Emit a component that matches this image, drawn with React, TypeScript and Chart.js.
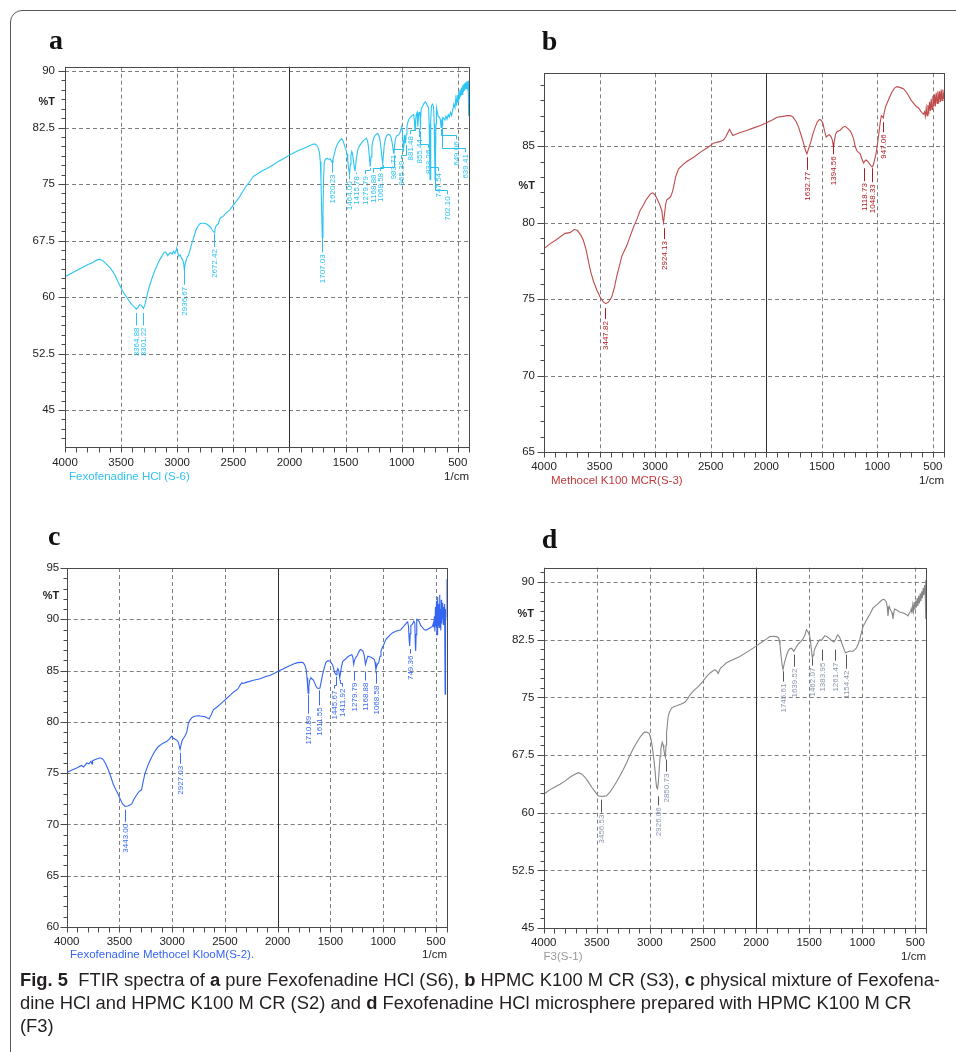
import React, { useEffect, useLayoutEffect, useRef } from "react";
import { Chart, registerables } from "chart.js";

Chart.register(...registerables);

// ---------------- DATA ----------------
// x-axis labels (wavenumber, 1/cm)
const xTickLabels = [4000, 3500, 3000, 2500, 2000, 1500, 1000, 500];

// y-axis labels (%T) per panel
const yTicksA = [45, 52.5, 60, 67.5, 75, 82.5, 90];
const yTicksB = [65, 70, 75, 80, 85];
const yTicksC = [60, 65, 70, 75, 80, 85, 90, 95];
const yTicksD = [45, 52.5, 60, 67.5, 75, 82.5, 90];

// spectra: [wavenumber, %T]
const spectrumA: [number, number][] = [
  [4000, 62.7], [3950, 63.1], [3900, 63.5], [3850, 63.9], [3800, 64.3], [3750, 64.6], [3720, 64.9], [3688, 65.0],
  [3660, 64.8], [3640, 64.5], [3620, 64.2], [3600, 63.9], [3575, 63.4], [3550, 62.8], [3530, 62.1], [3510, 61.5],
  [3490, 60.9], [3470, 60.4], [3450, 60.0], [3430, 59.5], [3410, 59.1], [3390, 58.8], [3375, 58.6], [3365, 58.4],
  [3350, 58.6], [3335, 59.0], [3320, 58.9], [3310, 58.7], [3301, 58.5], [3290, 58.9], [3275, 59.8], [3260, 60.8],
  [3242, 61.7], [3225, 62.5], [3210, 63.1], [3195, 63.7], [3183, 64.1], [3165, 64.7], [3150, 65.1], [3130, 65.6],
  [3118, 65.9], [3105, 66.0], [3095, 65.8], [3085, 65.5], [3075, 65.7], [3060, 65.9], [3045, 65.7], [3035, 66.1],
  [3020, 65.8], [3010, 66.2], [3005, 66.4], [2995, 65.9], [2985, 65.4], [2975, 65.6], [2962, 65.2], [2950, 64.9],
  [2942, 64.4], [2937, 63.7], [2930, 64.3], [2920, 64.9], [2910, 65.3], [2901, 65.5], [2890, 66.0], [2880, 66.6],
  [2868, 67.2], [2857, 67.7], [2845, 68.3], [2835, 68.8], [2822, 69.2], [2812, 69.5], [2795, 69.75], [2780, 69.8],
  [2760, 69.8], [2737, 69.7], [2720, 69.5], [2705, 69.3], [2693, 69.0], [2680, 68.7], [2672, 68.6], [2664, 69.0],
  [2655, 69.4], [2645, 69.6], [2634, 69.7], [2625, 70.2], [2615, 70.5], [2604, 70.6], [2590, 70.7], [2575, 71.0],
  [2560, 71.2], [2545, 71.4], [2530, 71.6], [2515, 71.9], [2500, 72.2], [2485, 72.5], [2470, 72.8], [2455, 73.1],
  [2440, 73.4], [2420, 73.9], [2400, 74.4], [2383, 74.8], [2366, 75.1], [2350, 75.4], [2335, 75.7], [2322, 76.0],
  [2290, 76.3], [2250, 76.7], [2210, 77.0], [2173, 77.3], [2140, 77.6], [2100, 78.0], [2050, 78.4], [1995, 78.9],
  [1960, 79.15], [1920, 79.45], [1876, 79.7], [1840, 79.95], [1810, 80.15], [1787, 80.3], [1770, 80.3], [1755, 80.1],
  [1742, 79.7], [1732, 79.1], [1725, 78.0], [1719, 75.5], [1713, 71.5], [1707, 67.9], [1701, 71.5], [1696, 75.5],
  [1690, 77.8], [1680, 78.3], [1665, 78.4], [1650, 78.3], [1635, 78.3], [1625, 78.0], [1620, 77.9], [1612, 78.2],
  [1600, 79.0], [1588, 79.7], [1575, 80.2], [1560, 80.6], [1545, 80.9], [1535, 81.0], [1525, 80.8], [1515, 80.4],
  [1505, 79.9], [1495, 79.5], [1487, 79.0], [1480, 78.1], [1472, 77.0], [1464, 76.3], [1458, 77.6], [1452, 78.8],
  [1445, 79.3], [1438, 79.0], [1430, 78.1], [1422, 77.2], [1416, 76.7], [1410, 77.5], [1402, 78.6], [1390, 79.6],
  [1378, 80.0], [1365, 80.3], [1345, 80.7], [1330, 80.9], [1315, 81.1], [1305, 80.8], [1296, 80.0], [1288, 78.6],
  [1280, 77.3], [1273, 78.6], [1265, 80.0], [1255, 80.8], [1245, 81.2], [1235, 81.5], [1225, 81.6], [1215, 81.7],
  [1205, 81.5], [1195, 81.0], [1186, 80.0], [1178, 78.8], [1169, 77.7], [1162, 78.9], [1155, 80.2], [1145, 81.0],
  [1135, 81.4], [1120, 81.6], [1105, 81.5], [1095, 81.2], [1085, 80.5], [1076, 79.6], [1069, 79.0], [1063, 80.1],
  [1055, 81.0], [1045, 81.4], [1030, 81.5], [1018, 81.7], [1008, 82.2], [1000, 82.6], [994, 82.0], [988, 80.8],
  [984, 79.3], [979, 80.5], [974, 81.5], [969, 81.0], [965, 80.4], [960, 81.6], [953, 82.6], [945, 83.2],
  [935, 83.6], [920, 83.9], [905, 84.1], [893, 84.2], [886, 83.4], [881, 82.1], [876, 83.3], [870, 84.2],
  [862, 84.5], [858, 83.6], [855, 82.6], [851, 83.8], [845, 84.5], [838, 84.6], [835, 83.6], [833, 82.2],
  [830, 83.6], [825, 85.0], [815, 85.3], [805, 85.6], [795, 85.8], [790, 85.9], [780, 85.7], [770, 85.4],
  [760, 85.1], [755, 83.0], [751, 79.0], [747, 75.6], [743, 79.0], [739, 83.5], [734, 85.4], [725, 85.6],
  [716, 85.3], [710, 83.0], [706, 79.0], [702, 75.6], [698, 79.0], [694, 83.0], [690, 85.1], [683, 84.6],
  [675, 84.0], [665, 83.9], [656, 83.6], [649, 82.5], [645, 83.6], [642, 83.2], [639, 82.7], [634, 83.8],
  [625, 83.7], [615, 83.5], [605, 84.0], [595, 83.6], [585, 84.2], [575, 83.9], [565, 84.5], [555, 84.1],
  [545, 84.8], [535, 85.6], [525, 85.1], [518, 86.3], [511, 85.4], [505, 86.8], [498, 85.9], [492, 87.2],
  [486, 86.3], [480, 87.5], [474, 86.6], [468, 87.8], [462, 86.9], [456, 88.1], [450, 87.2], [444, 88.3],
  [438, 87.4], [432, 88.5], [426, 87.7], [420, 88.6], [414, 87.9], [408, 88.7], [404, 88.2], [401, 84.0],
];

const spectrumB: [number, number][] = [
  [4000, 78.3], [3950, 78.6], [3886, 78.9], [3811, 79.3], [3766, 79.35], [3730, 79.55], [3700, 79.5], [3670, 79.2],
  [3646, 78.85], [3620, 78.2], [3601, 77.5], [3580, 76.8], [3556, 76.2], [3525, 75.6], [3496, 75.15], [3470, 74.85],
  [3445, 74.7], [3420, 74.8], [3390, 75.15], [3365, 75.8], [3345, 76.5], [3320, 77.2], [3300, 77.8], [3275, 78.2],
  [3255, 78.5], [3225, 79.1], [3195, 79.7], [3165, 80.2], [3135, 80.8], [3105, 81.15], [3080, 81.5], [3060, 81.7],
  [3040, 81.9], [3021, 81.95], [3000, 81.8], [2985, 81.6], [2960, 81.2], [2940, 80.8], [2930, 80.2], [2924, 80.0],
  [2915, 80.6], [2905, 81.2], [2895, 81.5], [2875, 81.6], [2860, 81.7], [2845, 82.0], [2835, 82.3], [2815, 83.0],
  [2800, 83.3], [2790, 83.5], [2750, 83.8], [2715, 84.0], [2650, 84.3], [2595, 84.6], [2530, 84.9], [2475, 85.2],
  [2420, 85.3], [2385, 85.4], [2365, 85.6], [2345, 85.9], [2330, 86.1], [2315, 85.9], [2300, 85.7], [2270, 85.8],
  [2234, 85.9], [2170, 86.05], [2114, 86.2], [2050, 86.35], [1994, 86.55], [1950, 86.7], [1904, 86.9], [1850, 86.95],
  [1810, 87.0], [1784, 87.0], [1765, 86.95], [1754, 86.85], [1730, 86.6], [1709, 86.25], [1685, 85.7], [1664, 85.2],
  [1648, 84.75], [1634, 84.5], [1620, 84.8], [1598, 85.3], [1580, 85.8], [1559, 86.25], [1540, 86.6], [1520, 86.75],
  [1505, 86.7], [1490, 86.5], [1475, 86.0], [1460, 85.6], [1445, 85.7], [1430, 85.75], [1415, 85.6], [1405, 85.4],
  [1398, 85.1], [1394, 84.95], [1388, 85.3], [1375, 85.8], [1364, 85.95], [1350, 86.0], [1334, 86.05], [1310, 86.25],
  [1289, 86.3], [1265, 86.15], [1244, 86.0], [1230, 85.8], [1214, 85.5], [1200, 85.0], [1184, 84.7], [1170, 84.6],
  [1154, 84.5], [1140, 84.2], [1124, 83.9], [1110, 84.05], [1100, 84.1], [1085, 84.0], [1070, 83.85], [1055, 83.7],
  [1045, 83.65], [1035, 83.8], [1025, 84.1], [1012, 84.5], [1000, 85.1], [988, 85.75], [975, 86.5], [964, 87.0],
  [955, 86.95], [947, 86.85], [938, 87.2], [925, 87.6], [913, 87.8], [890, 88.2], [868, 88.55], [845, 88.8],
  [823, 88.9], [800, 88.85], [780, 88.8], [763, 88.75], [740, 88.55], [718, 88.3], [695, 88.0], [673, 87.8],
  [650, 87.6], [628, 87.5], [610, 87.3], [598, 87.2], [585, 87.1], [575, 87.25], [568, 86.95], [560, 87.5],
  [553, 87.0], [545, 87.7], [538, 87.1], [530, 87.9], [522, 87.3], [515, 88.1], [508, 87.4], [500, 88.3],
  [492, 87.6], [485, 88.4], [478, 87.6], [470, 88.5], [462, 87.8], [455, 88.6], [448, 87.8], [440, 88.6],
  [432, 87.9], [425, 88.7], [418, 88.0], [410, 88.7], [404, 88.1], [400, 88.5],
];

const spectrumC: [number, number][] = [
  [4000, 75.07], [3950, 75.3], [3905, 75.5], [3860, 75.75], [3840, 75.6], [3810, 76.0], [3790, 75.9], [3770, 76.15],
  [3760, 75.9], [3755, 76.2], [3735, 76.3], [3710, 76.4], [3684, 76.5], [3665, 76.4], [3652, 76.3], [3630, 75.9],
  [3605, 75.3], [3580, 74.6], [3558, 73.9], [3535, 73.4], [3510, 72.9], [3490, 72.4], [3470, 72.0], [3447, 71.75],
  [3420, 71.8], [3400, 71.9], [3384, 72.0], [3360, 72.5], [3336, 72.9], [3315, 73.2], [3300, 73.3], [3290, 73.4],
  [3275, 74.2], [3257, 75.0], [3225, 75.9], [3193, 76.6], [3160, 77.2], [3131, 77.6], [3090, 77.9], [3051, 78.1],
  [3030, 78.3], [3004, 78.6], [2988, 78.4], [2972, 78.3], [2955, 78.2], [2941, 78.0], [2932, 77.6], [2925, 77.3],
  [2915, 77.8], [2905, 78.2], [2893, 78.4], [2875, 78.7], [2862, 79.0], [2846, 79.9], [2830, 80.2], [2814, 80.4],
  [2790, 80.55], [2751, 80.6], [2720, 80.55], [2688, 80.5], [2670, 80.4], [2650, 80.3], [2630, 80.7], [2609, 81.2],
  [2580, 81.4], [2546, 81.7], [2515, 82.0], [2482, 82.3], [2450, 82.6], [2419, 82.9], [2390, 83.1], [2372, 83.3],
  [2355, 83.6], [2340, 83.8], [2325, 83.75], [2300, 83.85], [2283, 83.9], [2230, 84.05], [2166, 84.2], [2120, 84.4],
  [2071, 84.55], [2030, 84.75], [1992, 84.95], [1950, 85.15], [1913, 85.35], [1880, 85.5], [1850, 85.65], [1820, 85.75],
  [1787, 85.8], [1770, 85.8], [1755, 85.75], [1742, 85.5], [1730, 85.1], [1722, 84.3], [1716, 83.4], [1711, 82.8],
  [1705, 83.4], [1698, 84.0], [1690, 84.2], [1685, 84.3], [1675, 84.2], [1663, 84.1], [1650, 83.8], [1638, 83.5],
  [1625, 83.3], [1612, 83.25], [1600, 83.3], [1590, 83.8], [1575, 84.6], [1560, 85.2], [1543, 85.8], [1525, 85.95],
  [1512, 85.95], [1500, 85.9], [1490, 85.7], [1480, 85.6], [1470, 85.2], [1460, 84.8], [1446, 84.6], [1438, 85.0],
  [1430, 85.2], [1420, 84.9], [1412, 84.3], [1404, 84.8], [1395, 85.4], [1383, 85.9], [1360, 86.1], [1340, 86.3],
  [1329, 86.4], [1310, 86.5], [1297, 86.55], [1288, 86.3], [1280, 85.6], [1272, 86.0], [1260, 86.3], [1249, 86.4],
  [1232, 86.8], [1217, 87.05], [1205, 87.0], [1192, 86.9], [1180, 86.5], [1168, 85.6], [1158, 86.0], [1145, 86.4],
  [1130, 86.35], [1115, 86.3], [1100, 86.2], [1085, 86.1], [1077, 85.8], [1069, 85.1], [1060, 85.5], [1050, 85.7],
  [1043, 85.75], [1030, 86.4], [1021, 86.9], [1010, 87.2], [996, 87.5], [985, 87.8], [970, 88.1], [964, 88.2],
  [950, 88.3], [932, 88.5], [910, 88.7], [885, 88.8], [860, 88.9], [837, 88.95], [815, 89.2], [790, 89.5],
  [775, 89.7], [768, 89.75], [760, 89.3], [754, 88.0], [749, 87.4], [744, 88.6], [738, 89.4], [724, 89.5],
  [710, 89.8], [700, 89.6], [696, 87.6], [692, 86.9], [688, 88.5], [682, 90.0], [670, 89.9], [660, 89.8],
  [645, 89.4], [628, 89.2], [612, 89.0], [597, 88.95], [580, 89.0], [565, 89.1], [550, 89.2], [534, 89.3],
  [525, 89.6], [520, 89.2], [515, 90.3], [510, 88.8], [505, 91.2], [500, 89.3], [495, 91.8], [490, 88.5],
  [486, 90.6], [482, 92.2], [478, 89.4], [474, 91.5], [470, 89.2], [466, 92.4], [462, 89.8], [458, 91.0],
  [454, 88.9], [450, 91.9], [446, 89.6], [442, 90.8], [438, 90.0], [434, 91.6], [430, 89.5], [426, 91.2],
  [422, 90.2], [418, 91.5], [413, 82.7], [410, 90.0], [406, 91.0], [403, 90.2], [400, 93.9],
];

const spectrumD: [number, number][] = [
  [4000, 62.4], [3950, 62.9], [3900, 63.3], [3847, 63.7], [3800, 64.1], [3753, 64.6], [3710, 64.95], [3674, 65.2],
  [3640, 65.0], [3611, 64.6], [3580, 64.0], [3548, 63.3], [3515, 62.7], [3486, 62.2], [3455, 62.1], [3430, 62.15],
  [3408, 62.2], [3375, 62.7], [3345, 63.3], [3315, 64.0], [3282, 64.8], [3250, 65.6], [3219, 66.5], [3190, 67.4],
  [3157, 68.3], [3125, 69.1], [3094, 69.8], [3070, 70.2], [3047, 70.5], [3025, 70.45], [3006, 70.3], [2990, 69.6],
  [2975, 68.3], [2963, 67.0], [2953, 65.7], [2944, 64.2], [2937, 63.3], [2928, 63.1], [2920, 64.0], [2912, 65.7],
  [2904, 67.3], [2897, 68.3], [2884, 69.15], [2875, 68.8], [2869, 68.3], [2862, 67.6], [2854, 67.2], [2848, 68.8],
  [2843, 70.4], [2835, 71.5], [2828, 72.5], [2815, 73.1], [2796, 73.6], [2770, 73.8], [2749, 73.9], [2710, 74.1],
  [2671, 74.35], [2645, 74.8], [2624, 75.3], [2585, 75.9], [2545, 76.4], [2505, 77.0], [2467, 77.7], [2430, 78.2],
  [2389, 78.6], [2370, 78.4], [2357, 78.1], [2345, 78.5], [2335, 78.8], [2310, 79.1], [2279, 79.5], [2220, 79.9],
  [2153, 80.3], [2090, 80.85], [2028, 81.4], [1980, 81.85], [1934, 82.3], [1900, 82.6], [1871, 82.9], [1840, 82.95],
  [1808, 82.9], [1790, 82.75], [1783, 82.5], [1775, 81.8], [1767, 80.7], [1756, 79.3], [1746, 78.6], [1735, 79.4],
  [1721, 80.1], [1710, 80.6], [1699, 81.0], [1685, 81.3], [1668, 81.4], [1655, 81.2], [1646, 81.0], [1635, 81.2],
  [1620, 81.6], [1605, 81.9], [1580, 82.25], [1558, 82.6], [1540, 83.1], [1526, 83.8], [1515, 83.6], [1505, 83.3],
  [1495, 83.0], [1487, 82.2], [1480, 81.3], [1470, 80.1], [1462, 80.5], [1455, 80.9], [1448, 81.3], [1430, 81.8],
  [1417, 82.2], [1400, 82.5], [1385, 82.4], [1370, 82.7], [1354, 83.0], [1340, 82.95], [1322, 82.8], [1305, 82.6],
  [1291, 82.4], [1276, 82.3], [1266, 82.2], [1250, 82.6], [1238, 83.0], [1229, 83.1], [1220, 82.95], [1213, 82.8],
  [1197, 82.2], [1181, 81.6], [1168, 81.1], [1156, 80.8], [1145, 80.85], [1125, 81.0], [1105, 81.0], [1087, 81.0],
  [1070, 81.2], [1056, 81.4], [1040, 81.9], [1024, 82.5], [1008, 83.4], [993, 84.2], [970, 84.8], [946, 85.4],
  [925, 85.9], [900, 86.6], [875, 86.9], [852, 87.2], [828, 87.5], [805, 87.75], [790, 87.7], [774, 87.4],
  [765, 86.8], [758, 85.6], [752, 86.4], [746, 86.8], [738, 86.5], [728, 86.2], [720, 86.0], [711, 85.2],
  [705, 85.9], [696, 86.5], [680, 86.4], [665, 86.25], [649, 86.1], [625, 86.0], [602, 85.9], [585, 85.75],
  [570, 85.6], [555, 86.0], [545, 86.2], [539, 86.5], [532, 85.9], [525, 87.0], [518, 86.2], [511, 87.4],
  [504, 86.4], [497, 87.6], [490, 86.7], [483, 87.9], [476, 86.9], [469, 88.2], [462, 87.2], [455, 88.5],
  [448, 87.5], [441, 88.8], [434, 87.9], [427, 89.2], [420, 88.3], [413, 89.6], [408, 88.9], [403, 90.3],
  [401, 85.2],
];

// peak labels: [peak wavenumber, %T where the leader starts, wavenumber of label, %T of label top]
const peaksA: [number, number, number, number][] = [
  [3364.88, 57.9, 3364.88, 56.1], [3301.22, 57.9, 3301.22, 56.1], [2936.67, 63.8, 2936.67, 61.5],
  [2672.42, 68.45, 2672.42, 66.5], [1707.03, 67.95, 1707.03, 65.8], [1620.23, 78.2, 1620.23, 76.4],
  [1464.0, 76.1, 1472, 75.5], [1415.78, 76.5, 1408, 76.2], [1279.79, 77.1, 1325, 76.2],
  [1168.88, 77.5, 1255, 76.4], [1068.58, 78.8, 1190, 76.6], [983.71, 79.1, 1080, 79.0],
  [965.39, 80.2, 1008, 78.2], [881.48, 81.9, 925, 81.5], [855.44, 82.4, 845, 81.1],
  [833.26, 82.0, 765, 79.7], [747.54, 75.6, 680, 76.6], [702.1, 75.6, 600, 73.5],
  [649.06, 82.3, 520, 80.8], [639.41, 82.5, 432, 79.1],
];
const peaksB: [number, number, number, number][] = [
  [3447.82, 74.41, 3447.82, 73.63], [2924.13, 79.64, 2924.13, 78.86], [1632.77, 84.28, 1632.77, 83.39],
  [1394.56, 85.2, 1394.56, 84.41], [1118.73, 83.56, 1118.73, 82.65], [1048.33, 83.56, 1048.33, 82.58],
  [947.06, 86.57, 947.06, 85.85],
];
const peaksC: [number, number, number, number][] = [
  [3443.0, 71.43, 3443.0, 70.16], [2927.03, 76.99, 2927.03, 75.82], [1710.89, 82.66, 1710.89, 80.7],
  [1611.55, 83.08, 1611.55, 81.51], [1445.67, 84.41, 1465, 83.14], [1411.92, 84.1, 1395, 83.34],
  [1279.79, 84.9, 1279.79, 83.93], [1168.88, 84.9, 1168.88, 83.93], [1068.58, 84.9, 1068.58, 83.63],
  [749.36, 87.1, 749.36, 86.56],
];
const peaksD: [number, number, number, number][] = [
  [3456.53, 61.7, 3456.53, 59.88], [2926.06, 62.13, 2926.06, 60.83], [2850.73, 66.9, 2850.73, 65.21],
  [1745.61, 78.38, 1745.61, 76.91], [1639.52, 80.55, 1639.52, 78.86], [1462.07, 80.0, 1475, 78.99],
  [1383.95, 81.2, 1383.95, 79.64], [1261.47, 81.2, 1261.47, 79.64], [1154.42, 80.55, 1154.42, 78.6],
];

const sampleNames = [
  "Fexofenadine HCl (S-6)",
  "Methocel K100 MCR(S-3)",
  "Fexofenadine Methocel KlooM(S-2).",
  "F3(S-1)",
];

// ---------------- LAYOUT / STYLE ----------------
const SANS = '"Liberation Sans", Arial, sans-serif';

type Panel = {
  letter: string;
  spectrum: [number, number][];
  peaks: [number, number, number, number][];
  yTicks: number[];
  yMin: number;
  yMax: number;
  minorStep: number;
  lineColor: string;
  labelColor: string;
  leaderColor: string;
  sample: string;
  sampleColor: string;
  canvas: { x: number; y: number; w: number; h: number };
  plot: { l: number; t: number; r: number; b: number };
  letterPos: [number, number];
  pctPos: [number, number];
  samplePos: [number, number];
  cmPos: [number, number];
  yGap: number;
  xLabelCenter: number;
};

const panels: Panel[] = [
  {
    letter: "a", spectrum: spectrumA, peaks: peaksA, yTicks: yTicksA, yMin: 40.1, yMax: 90.57, minorStep: 1.25,
    lineColor: "#2cc4f4", labelColor: "#2cc0f2", leaderColor: "#2cc0f2", sample: sampleNames[0], sampleColor: "#33c2f2",
    canvas: { x: 20, y: 20, w: 460, h: 475 }, plot: { l: 65, t: 66.7, r: 469, b: 447 },
    letterPos: [49, 49], pctPos: [55, 105], samplePos: [69, 480], cmPos: [469, 480], yGap: 10, xLabelCenter: 463,
  },
  {
    letter: "b", spectrum: spectrumB, peaks: peaksB, yTicks: yTicksB, yMin: 65, yMax: 89.77, minorStep: 1,
    lineColor: "#bf4c4c", labelColor: "#b01c20", leaderColor: "#b01c20", sample: sampleNames[1], sampleColor: "#c0393b",
    canvas: { x: 500, y: 20, w: 456, h: 475 }, plot: { l: 544, t: 73.3, r: 944, b: 452 },
    letterPos: [541.7, 50], pctPos: [535, 189], samplePos: [551, 483.5], cmPos: [944, 484], yGap: 9, xLabelCenter: 466.7,
  },
  {
    letter: "c", spectrum: spectrumC, peaks: peaksC, yTicks: yTicksC, yMin: 60, yMax: 95, minorStep: 1,
    lineColor: "#3464f2", labelColor: "#3a6af4", leaderColor: "#3a6af4", sample: sampleNames[2], sampleColor: "#3566f5",
    canvas: { x: 20, y: 515, w: 460, h: 455 }, plot: { l: 66.7, t: 568, r: 446.5, b: 927 },
    letterPos: [48, 545], pctPos: [59.3, 599], samplePos: [70, 957.5], cmPos: [447, 957.5], yGap: 7.5, xLabelCenter: 942.3,
  },
  {
    letter: "d", spectrum: spectrumD, peaks: peaksD, yTicks: yTicksD, yMin: 45, yMax: 91.86, minorStep: 1.25,
    lineColor: "#878787", labelColor: "#8a96ad", leaderColor: "#555555", sample: sampleNames[3], sampleColor: "#999999",
    canvas: { x: 500, y: 515, w: 456, h: 455 }, plot: { l: 543.7, t: 567.7, r: 926, b: 928 },
    letterPos: [541.7, 548], pctPos: [534, 617], samplePos: [543.5, 960], cmPos: [926, 959.5], yGap: 9.4, xLabelCenter: 942.7,
  },
];

const TICK_FONT = 11.5;

function makeDecor(p: Panel) {
  const ox = p.canvas.x;
  const oy = p.canvas.y;
  const line = (ctx: CanvasRenderingContext2D, x1: number, y1: number, x2: number, y2: number) => {
    ctx.beginPath();
    ctx.moveTo(x1, y1);
    ctx.lineTo(x2, y2);
    ctx.stroke();
  };
  return {
    id: "ftirDecor" + p.letter,
    beforeDatasetsDraw(chart: any) {
      const { ctx, chartArea: ar } = chart;
      const xs = chart.scales.x;
      const ys = chart.scales.y;
      ctx.save();
      ctx.lineWidth = 1;
      ctx.strokeStyle = "#7e7e7e";
      ctx.setLineDash([4, 3]);
      for (const v of xTickLabels) {
        if (v === 2000) continue;
        const px = Math.round(xs.getPixelForValue(v)) + 0.5;
        line(ctx, px, ar.top, px, ar.bottom);
      }
      for (const v of p.yTicks) {
        const py = Math.round(ys.getPixelForValue(v)) + 0.5;
        if (py <= ar.top + 1 || py >= ar.bottom - 1) continue;
        line(ctx, ar.left, py, ar.right, py);
      }
      ctx.setLineDash([]);
      ctx.strokeStyle = "#2e2e2e";
      const p2 = Math.round(xs.getPixelForValue(2000)) + 0.5;
      line(ctx, p2, ar.top, p2, ar.bottom);
      ctx.restore();
    },
    afterDraw(chart: any) {
      const { ctx, chartArea: ar } = chart;
      const xs = chart.scales.x;
      const ys = chart.scales.y;
      ctx.save();
      ctx.lineWidth = 1;
      ctx.strokeStyle = "#4a4a4a";
      const L = Math.round(ar.left) + 0.5;
      const T = Math.round(ar.top) + 0.5;
      const R = Math.round(ar.right) + 0.5;
      const B = Math.round(ar.bottom) + 0.5;
      ctx.strokeRect(L, T, R - L, B - T);

      // y ticks (major + minor)
      const base = p.yTicks[0];
      const kMin = Math.ceil((p.yMin - base) / p.minorStep - 1e-6);
      const kMax = Math.floor((p.yMax - base) / p.minorStep + 1e-6);
      for (let k = kMin; k <= kMax; k++) {
        const v = base + k * p.minorStep;
        const major = p.yTicks.some((t) => Math.abs(t - v) < 1e-6);
        const py = Math.round(ys.getPixelForValue(v)) + 0.5;
        line(ctx, L - (major ? 7 : 4), py, L, py);
      }
      // x ticks every 100
      for (let v = 400; v <= 4000; v += 100) {
        const px = Math.round(xs.getPixelForValue(v)) + 0.5;
        line(ctx, px, B, px, B + 5);
      }

      // peak labels
      ctx.font = "8px " + SANS;
      ctx.fillStyle = p.labelColor;
      ctx.strokeStyle = p.leaderColor;
      for (const [wn, leadT, lwn, textT] of p.peaks) {
        const px = Math.round(xs.getPixelForValue(wn)) + 0.5;
        const lx = Math.round(xs.getPixelForValue(lwn)) + 0.5;
        const yl = ys.getPixelForValue(leadT);
        const yt = ys.getPixelForValue(textT);
        ctx.beginPath();
        if (Math.abs(px - lx) < 1.5) {
          ctx.moveTo(lx, yl);
          ctx.lineTo(lx, yt - 1);
        } else {
          const bend = Math.round(yt - 5) + 0.5;
          ctx.moveTo(lx, yt - 1);
          ctx.lineTo(lx, bend);
          ctx.lineTo(px, bend);
          if (yl < bend) ctx.lineTo(px, yl);
        }
        ctx.stroke();
        ctx.save();
        ctx.translate(lx, yt + 1);
        ctx.rotate(-Math.PI / 2);
        ctx.textAlign = "right";
        ctx.textBaseline = "middle";
        ctx.fillText(wn.toFixed(2), 0, 0);
        ctx.restore();
      }

      // texts
      ctx.textBaseline = "alphabetic";
      ctx.fillStyle = "#111";
      ctx.textAlign = "left";
      ctx.font = 'bold 28px "Liberation Serif", "Times New Roman", serif';
      ctx.fillText(p.letter, p.letterPos[0] - ox, p.letterPos[1] - oy);
      ctx.font = "bold 11px " + SANS;
      ctx.fillStyle = "#222";
      ctx.textAlign = "right";
      ctx.fillText("%T", p.pctPos[0] - ox, p.pctPos[1] - oy);
      ctx.font = "11.5px " + SANS;
      ctx.fillText("1/cm", p.cmPos[0] - ox, p.cmPos[1] - oy);
      ctx.textAlign = "left";
      ctx.fillStyle = p.sampleColor;
      ctx.fillText(p.sample, p.samplePos[0] - ox, p.samplePos[1] - oy);
      ctx.restore();
    },
  };
}

function PanelChart({ p }: { p: Panel }) {
  const ref = useRef<HTMLCanvasElement | null>(null);
  useEffect(() => {
    const yAxisW = p.plot.l - p.canvas.x;
    const padTop = p.plot.t - p.canvas.y;
    const padRight = p.canvas.x + p.canvas.w - p.plot.r;
    const xAxisH = p.canvas.y + p.canvas.h - p.plot.b;
    const tickFont = { family: SANS, size: TICK_FONT };
    const chart = new Chart(ref.current as HTMLCanvasElement, {
      type: "line",
      data: {
        datasets: [
          {
            data: p.spectrum.map(([x, y]) => ({ x, y })),
            borderColor: p.lineColor,
            borderWidth: 1.1,
            pointRadius: 0,
            tension: 0,
            fill: false,
          },
        ],
      },
      options: {
        animation: false,
        responsive: false,
        maintainAspectRatio: false,
        events: [],
        layout: { padding: { left: 0, top: padTop, right: padRight, bottom: 0 } },
        plugins: { legend: { display: false }, tooltip: { enabled: false }, title: { display: false } },
        scales: {
          x: {
            type: "linear",
            reverse: true,
            min: 400,
            max: 4000,
            afterBuildTicks: (s: any) => {
              s.ticks = xTickLabels.map((value) => ({ value }));
            },
            afterFit: (s: any) => {
              s.height = xAxisH;
            },
            grid: { display: false, drawTicks: false },
            border: { display: false },
            ticks: {
              autoSkip: false,
              maxRotation: 0,
              padding: p.xLabelCenter - p.plot.b - TICK_FONT * 0.6,
              color: "#222",
              font: tickFont,
              callback: (v: any) => String(v),
            },
          },
          y: {
            type: "linear",
            min: p.yMin,
            max: p.yMax,
            afterBuildTicks: (s: any) => {
              s.ticks = p.yTicks.map((value) => ({ value }));
            },
            afterFit: (s: any) => {
              s.width = yAxisW;
            },
            grid: { display: false, drawTicks: false },
            border: { display: false },
            ticks: {
              autoSkip: false,
              padding: p.yGap,
              color: "#222",
              font: tickFont,
              callback: (v: any) => String(v),
            },
          },
        },
      } as any,
      plugins: [makeDecor(p)],
    });
    return () => chart.destroy();
  }, []);
  return (
    <canvas
      ref={ref}
      width={p.canvas.w}
      height={p.canvas.h}
      style={{ position: "absolute", left: p.canvas.x, top: p.canvas.y, width: p.canvas.w, height: p.canvas.h }}
    />
  );
}

function Caption() {
  const box = useRef<HTMLDivElement | null>(null);
  const first = useRef<HTMLSpanElement | null>(null);
  useLayoutEffect(() => {
    if (!box.current || !first.current) return;
    const w = first.current.getBoundingClientRect().width;
    if (w > 0) box.current.style.transform = `scaleX(${920 / w})`;
  }, []);
  const lineStyle: React.CSSProperties = { display: "block", whiteSpace: "nowrap", height: 23 };
  return (
    <div
      ref={box}
      style={{
        position: "absolute",
        left: 20,
        top: 969,
        transformOrigin: "0 0",
        fontFamily: '"Liberation Sans Narrow", "Liberation Sans", Arial, sans-serif',
        fontSize: 17.5,
        lineHeight: "23px",
        color: "#231f20",
      }}
    >
      <span ref={first} style={{ ...lineStyle, display: "inline-block" }}>
        <b>Fig. 5</b>&nbsp; FTIR spectra of <b>a</b> pure Fexofenadine HCl (S6), <b>b</b> HPMC K100 M CR (S3), <b>c</b> physical mixture of Fexofena-
      </span>
      <span style={lineStyle}>
        dine HCl and HPMC K100 M CR (S2) and <b>d</b> Fexofenadine HCl microsphere prepared with HPMC K100 M CR
      </span>
      <span style={lineStyle}>(F3)</span>
    </div>
  );
}

export default function App() {
  return (
    <div
      style={{
        position: "fixed",
        left: 0,
        top: 0,
        width: 956,
        height: 1052,
        overflow: "hidden",
        background: "#ffffff",
      }}
    >
      <div
        style={{
          position: "absolute",
          left: 10,
          top: 10,
          width: 1000,
          height: 1100,
          border: "1px solid #5a5a5a",
          borderRadius: 12,
          boxSizing: "border-box",
        }}
      />
      {panels.map((p) => (
        <PanelChart key={p.letter} p={p} />
      ))}
      <Caption />
    </div>
  );
}
